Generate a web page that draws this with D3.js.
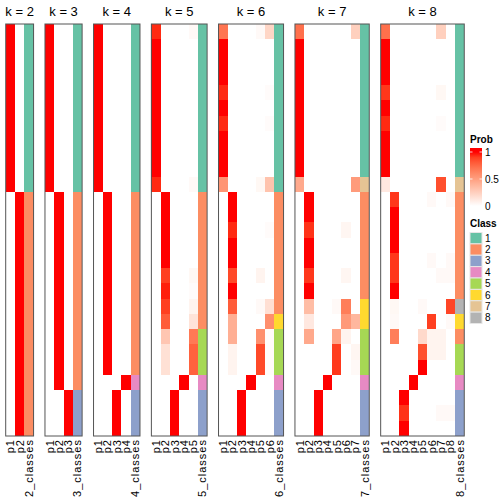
<!DOCTYPE html>
<html><head><meta charset="utf-8">
<script src="https://cdn.jsdelivr.net/npm/d3@7"></script>
<style>
body{margin:0;background:#fff}
svg{display:block}
text{font-family:"Liberation Sans",Arial,Helvetica,sans-serif;fill:#000}
</style>
</head><body><svg id="c" width="504" height="504"></svg>
<script>
const kValues = [2,3,4,5,6,7,8];
const classColors = ["#66C2A5","#FC8D62","#8DA0CB","#E78AC3","#A6D854","#FFD92F","#E5C494","#B3B3B3"];
const classLabels = ["1","2","3","4","5","6","7","8"];
const probTicks = [0, 0.5, 1];
const probTickLabels = ["0","0.5","1"];

const probK2 = [
[1,0],[1,0],[1,0],[1,0],[1,0],[1,0],[1,0],[1,0],[1,0],[1,0],[1,0],
[0,1],[0,1],[0,1],[0,1],[0,1],[0,1],[0,1],[0,1],[0,1],[0,1],[0,1],[0,1],[0,1],[0,1],[0,1],[0,1]];
const classK2 = [1,1,1,1,1,1,1,1,1,1,1,2,2,2,2,2,2,2,2,2,2,2,2,2,2,2,2];

const probK3 = [
[1,0,0],[1,0,0],[1,0,0],[1,0,0],[1,0,0],[1,0,0],[1,0,0],[1,0,0],[1,0,0],[1,0,0],[1,0,0],
[0,1,0],[0,1,0],[0,1,0],[0,1,0],[0,1,0],[0,1,0],[0,1,0],[0,1,0],[0,1,0],[0,1,0],[0,1,0],[0,1,0],[0,1,0],
[0,0,1],[0,0,1],[0,0,1]];
const classK3 = [1,1,1,1,1,1,1,1,1,1,1,2,2,2,2,2,2,2,2,2,2,2,2,2,3,3,3];

const probK4 = [
[1,0,0,0],[1,0,0,0],[1,0,0,0],[1,0,0,0],[1,0,0,0],[1,0,0,0],[1,0,0,0],[1,0,0,0],[1,0,0,0],[1,0,0,0],[1,0,0,0],
[0,1,0,0],[0,1,0,0],[0,1,0,0],[0,1,0,0],[0,1,0,0],[0,1,0,0],[0,1,0,0],[0,1,0,0],[0,1,0,0],[0,1,0,0],[0,1,0,0],[0,1,0,0],
[0,0,0,1],
[0,0,1,0],[0,0,1,0],[0,0,1,0]];
const classK4 = [1,1,1,1,1,1,1,1,1,1,1,2,2,2,2,2,2,2,2,2,2,2,2,4,3,3,3];

const probK5 = [
[0.95,0,0,0,0.03],
[1,0,0,0,0],[1,0,0,0,0],[1,0,0,0,0],[1,0,0,0,0],[1,0,0,0,0],[1,0,0,0,0],[1,0,0,0,0],[1,0,0,0,0],[1,0,0,0,0],
[0.95,0,0,0,0.03],
[0,1,0,0,0],[0,1,0,0,0],[0,1,0,0,0],[0,1,0,0,0],[0,1,0,0,0],
[0,0.9,0,0,0.04],
[0,0.97,0,0,0.02],
[0,0.9,0,0,0.06],
[0,0.8,0,0,0.15],
[0,0.3,0,0,0.68],
[0,0.16,0,0,0.78],
[0,0.16,0,0,0.78],
[0,0,0,1,0],
[0,0,1,0,0],[0,0,1,0,0],[0,0,1,0,0]];
const classK5 = [1,1,1,1,1,1,1,1,1,1,1,2,2,2,2,2,2,2,2,2,5,5,5,4,3,3,3];

const probK6 = [
[0.7,0,0,0,0.03,0.22],
[1,0,0,0,0,0],[1,0,0,0,0,0],[1,0,0,0,0,0],
[0.95,0,0,0,0,0.02],
[1,0,0,0,0,0],
[0.95,0,0,0,0,0.02],
[1,0,0,0,0,0],[1,0,0,0,0,0],[1,0,0,0,0,0],
[0.55,0,0,0,0.04,0.32],
[0,1,0,0,0,0],[0,1,0,0,0,0],
[0,0.95,0,0,0,0.02],
[0,1,0,0,0,0],[0,1,0,0,0,0],
[0,0.87,0,0,0.06,0],
[0,1,0,0,0,0],
[0,0.8,0,0,0.03,0.17],
[0,0.42,0,0,0,0.58],
[0,0.42,0,0,0.58,0.02],
[0,0.06,0,0,0.87,0.02],
[0,0.06,0,0,0.87,0.02],
[0,0,0,1,0,0],
[0,0,1,0,0,0],[0,0,1,0,0,0],[0,0,1,0,0,0]];
const classK6 = [1,1,1,1,1,1,1,1,1,1,1,2,2,2,2,2,2,2,2,6,5,5,5,4,3,3,3];

const probK7 = [
[0.72,0,0,0,0,0,0.25],
[1,0,0,0,0,0,0],[1,0,0,0,0,0,0],[1,0,0,0,0,0,0],[1,0,0,0,0,0,0],[1,0,0,0,0,0,0],
[1,0,0,0,0,0,0],[1,0,0,0,0,0,0],[1,0,0,0,0,0,0],[1,0,0,0,0,0,0],
[0.45,0,0,0,0,0,0.52],
[0,1,0,0,0,0,0],[0,1,0,0,0,0,0],
[0,0.93,0,0,0,0.05,0],
[0,1,0,0,0,0,0],[0,1,0,0,0,0,0],
[0,0.92,0,0,0,0.05,0],
[0,1,0,0,0,0,0],
[0,0.35,0,0,0.03,0.66,0],
[0,0.12,0,0,0,0.53,0.38],
[0,0.45,0,0,0.47,0.06,0],
[0,0,0,0,0.9,0,0.05],
[0,0,0,0,0.92,0,0.03],
[0,0,0,1,0,0,0],
[0,0,1,0,0,0,0],[0,0,1,0,0,0,0],[0,0,1,0,0,0,0]];
const classK7 = [1,1,1,1,1,1,1,1,1,1,7,2,2,2,2,2,2,2,6,6,5,5,5,4,3,3,3];

const probK8 = [
[0.72,0,0,0,0,0,0.25,0],
[1,0,0,0,0,0,0,0],[1,0,0,0,0,0,0,0],[1,0,0,0,0,0,0,0],
[0.92,0,0,0,0,0,0.04,0],
[1,0,0,0,0,0,0,0],
[0.95,0,0,0,0,0,0.02,0],
[1,0,0,0,0,0,0,0],[1,0,0,0,0,0,0,0],[1,0,0,0,0,0,0,0],
[0.12,0,0,0,0,0,0.85,0],
[0,0.92,0,0,0,0.03,0,0.03],
[0,1,0,0,0,0,0,0],[0,1,0,0,0,0,0,0],[0,1,0,0,0,0,0,0],
[0,0.92,0,0,0,0.03,0,0.03],
[0,0.92,0,0,0,0,0.03,0.03],
[0,1,0,0,0,0,0,0],
[0,0.04,0,0,0.03,0,0,0.88],
[0,0.03,0,0,0,0.9,0,0.03],
[0,0.66,0,0,0.2,0.06,0.06,0],
[0,0,0,0,0.85,0.06,0.06,0],
[0,0,0,0,1,0,0,0],
[0,0,0,1,0,0,0,0],
[0,0,1,0,0,0,0,0],
[0,0,0.93,0,0,0,0.03,0.03],
[0,0,1,0,0,0,0,0]];
const classK8 = [1,1,1,1,1,1,1,1,1,1,7,2,2,2,2,2,2,2,8,6,2,5,5,4,3,3,3];

const probByK = {2:probK2,3:probK3,4:probK4,5:probK5,6:probK6,7:probK7,8:probK8};
const classByK = {2:classK2,3:classK3,4:classK4,5:classK5,6:classK6,7:classK7,8:classK8};

// layout
const svg = d3.select("#c");
const nRows = probK2.length;
const topY = 24, bottomY = 436;
const leftX = 5.7, colW = 9.29, gapW = 11.4;

const yRow = d3.scaleBand().domain(d3.range(nRows)).range([topY, bottomY]).padding(0);
const probColor = d3.scaleLinear().domain([0,1]).range(["#ffffff","#ff0000"]).interpolate(d3.interpolateLab).clamp(true);
const classColor = d3.scaleOrdinal().domain(classLabels).range(classColors);

let x0 = leftX;
kValues.forEach(k => {
  const cols = d3.range(1, k+1).map(i => "p" + i).concat([k + "_classes"]);
  const x = d3.scaleBand().domain(cols).range([x0, x0 + cols.length * colW]).padding(0);
  const g = svg.append("g");
  const probs = probByK[k], cls = classByK[k];
  probs.forEach((row, r) => {
    row.forEach((v, c) => {
      g.append("rect")
        .attr("x", x(cols[c])).attr("y", yRow(r))
        .attr("width", x.bandwidth() + 0.4).attr("height", yRow.bandwidth() + 0.4)
        .attr("fill", probColor(v)).attr("shape-rendering","crispEdges");
    });
  });
  g.selectAll(null).data(cls).join("rect")
    .attr("x", x(cols[cols.length-1])).attr("y", (d,i) => yRow(i))
    .attr("width", x.bandwidth()).attr("height", yRow.bandwidth() + 0.4)
    .attr("fill", d => classColor(String(d))).attr("shape-rendering","crispEdges");
  g.append("rect")
    .attr("x", x.range()[0]).attr("y", topY)
    .attr("width", x.range()[1] - x.range()[0]).attr("height", bottomY - topY)
    .attr("fill", "none").attr("stroke", "#555").attr("stroke-width", 1);
  g.append("text")
    .attr("x", (x.range()[0] + x.range()[1]) / 2).attr("y", 16)
    .attr("text-anchor", "middle").attr("font-size", 13)
    .text("k = " + k);
  cols.forEach(cn => {
    const cx = x(cn) + x.bandwidth() / 2;
    g.append("text")
      .attr("transform", `translate(${cx},439) rotate(-90)`)
      .attr("text-anchor", "end").attr("dominant-baseline", "central")
      .attr("font-size", 11).attr("letter-spacing", 1)
      .text(cn);
  });
  x0 = x.range()[1] + gapW;
});

// Prob legend
const lx = 470, lw = 12;
const ly = d3.scaleLinear().domain([0,1]).range([206, 152]);
const defs = svg.append("defs");
const grad = defs.append("linearGradient").attr("id","pg").attr("x1",0).attr("x2",0).attr("y1",1).attr("y2",0);
d3.range(0, 1.0001, 0.1).forEach(t => grad.append("stop").attr("offset", t).attr("stop-color", probColor(t)));
svg.append("text").attr("x", lx).attr("y", 142.5).attr("font-size", 10).attr("font-weight","bold").text("Prob");
svg.append("rect").attr("x", lx).attr("y", 148).attr("width", lw).attr("height", 4).attr("fill", probColor(1));
svg.append("rect").attr("x", lx).attr("y", ly(1)).attr("width", lw).attr("height", ly(0) - ly(1)).attr("fill", "url(#pg)");
probTicks.forEach((t, i) => {
  svg.append("line").attr("x1", lx).attr("x2", lx + 2.5).attr("y1", ly(t)).attr("y2", ly(t)).attr("stroke","#fff").attr("stroke-width",0.8);
  svg.append("line").attr("x1", lx + lw - 2.5).attr("x2", lx + lw).attr("y1", ly(t)).attr("y2", ly(t)).attr("stroke","#fff").attr("stroke-width",0.8);
  svg.append("text").attr("x", lx + lw + 3).attr("y", ly(t)).attr("dominant-baseline","central")
    .attr("font-size", 10).text(probTickLabels[i]);
});

// Class legend
svg.append("text").attr("x", lx).attr("y", 226.5).attr("font-size", 10).attr("font-weight","bold").text("Class");
const cy = d3.scaleBand().domain(classLabels).range([232.5, 323.5]).padding(0);
classLabels.forEach(c => {
  svg.append("rect").attr("x", lx).attr("y", cy(c)).attr("width", lw).attr("height", cy.bandwidth())
    .attr("fill", classColor(c)).attr("stroke","#e6e6e6").attr("stroke-width",1);
  svg.append("text").attr("x", lx + lw + 3).attr("y", cy(c) + cy.bandwidth()/2).attr("dominant-baseline","central")
    .attr("font-size", 10).text(c);
});
</script>
</body></html>
